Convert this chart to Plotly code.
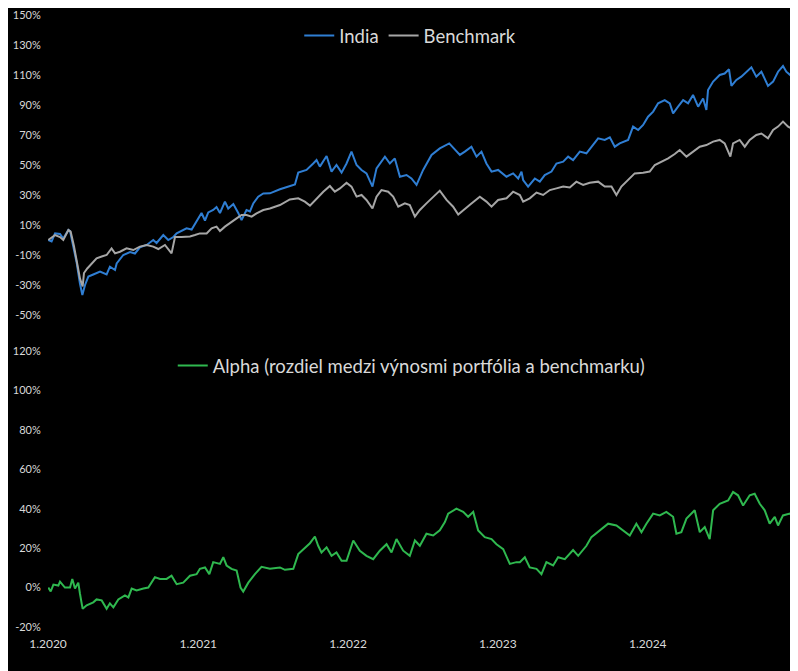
import pandas as pd
import plotly.graph_objects as go

# ---- data (time in decimal years, values in %) ----
india_t = [2020.002, 2020.024, 2020.047, 2020.080, 2020.102, 2020.136, 2020.147, 2020.169, 2020.191, 2020.213,
           2020.229, 2020.247, 2020.269, 2020.302, 2020.347, 2020.391, 2020.413, 2020.447, 2020.458, 2020.502,
           2020.547, 2020.580, 2020.613, 2020.658, 2020.702, 2020.724, 2020.769, 2020.802, 2020.836, 2020.858,
           2020.891, 2020.924, 2020.958, 2020.991, 2021.024, 2021.047, 2021.069, 2021.102, 2021.124, 2021.147,
           2021.180, 2021.202, 2021.236, 2021.269, 2021.291, 2021.324, 2021.347, 2021.369, 2021.402, 2021.436,
           2021.480, 2021.547, 2021.613, 2021.647, 2021.669, 2021.724, 2021.769, 2021.791, 2021.813, 2021.858,
           2021.891, 2021.924, 2021.958, 2021.991, 2022.024, 2022.058, 2022.091, 2022.124, 2022.164, 2022.191,
           2022.247, 2022.280, 2022.313, 2022.347, 2022.391, 2022.424, 2022.458, 2022.502, 2022.558, 2022.613,
           2022.676, 2022.713, 2022.747, 2022.780, 2022.824, 2022.858, 2022.891, 2022.924, 2022.958, 2023.002,
           2023.058, 2023.102, 2023.136, 2023.158, 2023.169, 2023.202, 2023.247, 2023.280, 2023.313, 2023.358,
           2023.391, 2023.436, 2023.469, 2023.502, 2023.547, 2023.591, 2023.624, 2023.669, 2023.713, 2023.747,
           2023.780, 2023.813, 2023.869, 2023.902, 2023.936, 2023.969, 2024.002, 2024.036, 2024.069, 2024.113,
           2024.147, 2024.169, 2024.202, 2024.236, 2024.269, 2024.302, 2024.336, 2024.369, 2024.391, 2024.402,
           2024.436, 2024.480, 2024.513, 2024.542, 2024.558, 2024.591, 2024.624, 2024.658, 2024.691, 2024.724,
           2024.758, 2024.802, 2024.836, 2024.869, 2024.902, 2024.924, 2024.958]
india_v = [0, -1, 4.4, 4, 1, 6.7, 6, -4.4, -15, -29,
           -36.7, -30, -24.4, -23, -21, -23, -17.8, -20, -15.6, -10,
           -8, -9, -4.9, -3.3, 0, -2, 3.3, 0, 2, 4.4,
           6, 7.8, 7, 12.2, 18, 13, 18.4, 20, 22, 18,
           25.6, 21, 24, 18, 13.3, 20, 19, 24.4, 28.9, 31,
           31.1, 33.8, 36, 37, 44.9, 46.7, 51, 53.3, 48.9, 56,
           45.6, 50, 44.9, 51, 58.9, 50, 46.7, 44.4, 35.6, 47.8,
           55.6, 51, 54.4, 42.2, 43.3, 41, 36.7, 46.7, 56.7, 61.1,
           64.4, 60, 56.7, 58.9, 62.2, 55.6, 58.9, 51, 45.6, 46.7,
           42.2, 44.4, 41, 45.6, 40, 35.6, 41, 38.9, 43.3, 45.6,
           51, 52.2, 55.6, 53.3, 58.9, 57.8, 62.2, 67.8, 66.7, 68.4,
           62.2, 64.4, 66.7, 75.6, 73.3, 76.7, 82.2, 85.6, 91.1, 93.3,
           91.1, 84.4, 88.9, 93.3, 91.1, 96.7, 88.9, 94.4, 86.7, 100,
           105.6, 110, 111, 113.8, 102.7, 106.7, 108.9, 112.2, 115.1, 108.9,
           112.2, 102.7, 105.6, 112.2, 116, 112.2, 109.3]

bench_t = [2020.002, 2020.047, 2020.080, 2020.102, 2020.136, 2020.151, 2020.173, 2020.196, 2020.213, 2020.231,
           2020.240, 2020.262, 2020.291, 2020.324, 2020.358, 2020.391, 2020.424, 2020.447, 2020.480, 2020.524,
           2020.569, 2020.613, 2020.658, 2020.702, 2020.736, 2020.780, 2020.824, 2020.847, 2020.891, 2020.947,
           2020.980, 2021.013, 2021.058, 2021.091, 2021.124, 2021.147, 2021.180, 2021.213, 2021.258, 2021.291,
           2021.324, 2021.358, 2021.391, 2021.436, 2021.480, 2021.547, 2021.613, 2021.669, 2021.713, 2021.747,
           2021.791, 2021.836, 2021.880, 2021.913, 2021.947, 2021.991, 2022.024, 2022.058, 2022.091, 2022.124,
           2022.164, 2022.191, 2022.224, 2022.269, 2022.302, 2022.336, 2022.380, 2022.413, 2022.447, 2022.480,
           2022.524, 2022.569, 2022.613, 2022.658, 2022.702, 2022.736, 2022.780, 2022.824, 2022.880, 2022.924,
           2022.958, 2023.002, 2023.058, 2023.102, 2023.147, 2023.169, 2023.213, 2023.258, 2023.302, 2023.347,
           2023.391, 2023.436, 2023.480, 2023.524, 2023.569, 2023.613, 2023.669, 2023.713, 2023.758, 2023.791,
           2023.824, 2023.869, 2023.913, 2023.969, 2024.013, 2024.047, 2024.091, 2024.136, 2024.180, 2024.213,
           2024.258, 2024.302, 2024.347, 2024.391, 2024.436, 2024.480, 2024.513, 2024.551, 2024.569, 2024.613,
           2024.647, 2024.680, 2024.724, 2024.758, 2024.802, 2024.836, 2024.869, 2024.902, 2024.936, 2024.958]
bench_v = [0, 3.3, 2, 0, 6.7, 5.6, -4, -18, -25.6, -31,
           -22, -19, -15.6, -12.2, -11, -10, -5.6, -8.9, -7.8, -5.6,
           -6.7, -4.4, -3.3, -4.4, -6, -3.3, -8.9, 2, 2, 2.4,
           3.3, 4.4, 4.4, 7.8, 8.9, 6, 8.9, 11, 14.4, 16.7,
           16.7, 15.6, 17.8, 20, 21, 23.3, 27, 27.8, 25.6, 22.9,
           27.8, 32.2, 36, 32.2, 34.4, 38.2, 35.6, 28.9, 30, 26.7,
           21, 28.9, 33.3, 32.2, 28.9, 22.2, 24.4, 23.3, 15.6, 20,
           24.4, 28.9, 32.9, 26.7, 22.2, 17, 21, 24.4, 28.9, 25.6,
           22.2, 26.7, 27.8, 32.2, 30, 25.6, 27.8, 31.6, 30, 33.3,
           34.4, 35.6, 35, 38.9, 36.7, 38.2, 38.9, 35.6, 35.6, 30,
           35.6, 40, 44.4, 44.9, 45.6, 50, 52.2, 54.4, 57.3, 60,
           55.6, 58.9, 62.2, 63.3, 65.6, 66.7, 64.4, 55.6, 64.4, 66.7,
           62.2, 66.7, 70, 71, 67.8, 73.3, 75.6, 78.9, 75.6, 74.4]

alpha_t = [2020.002, 2020.018, 2020.036, 2020.069, 2020.080, 2020.113, 2020.147, 2020.162, 2020.180, 2020.202,
           2020.213, 2020.231, 2020.258, 2020.302, 2020.324, 2020.358, 2020.391, 2020.413, 2020.436, 2020.469,
           2020.513, 2020.536, 2020.558, 2020.591, 2020.636, 2020.669, 2020.713, 2020.747, 2020.791, 2020.824,
           2020.858, 2020.902, 2020.947, 2020.991, 2021.013, 2021.047, 2021.076, 2021.102, 2021.147, 2021.169,
           2021.191, 2021.224, 2021.258, 2021.284, 2021.302, 2021.336, 2021.380, 2021.424, 2021.480, 2021.547,
           2021.580, 2021.636, 2021.669, 2021.713, 2021.747, 2021.780, 2021.802, 2021.824, 2021.858, 2021.891,
           2021.924, 2021.958, 2021.991, 2022.036, 2022.080, 2022.124, 2022.169, 2022.213, 2022.258, 2022.291,
           2022.324, 2022.369, 2022.413, 2022.447, 2022.480, 2022.524, 2022.569, 2022.613, 2022.647, 2022.669,
           2022.724, 2022.769, 2022.802, 2022.836, 2022.869, 2022.913, 2022.958, 2022.991, 2023.036, 2023.080,
           2023.124, 2023.147, 2023.169, 2023.180, 2023.213, 2023.258, 2023.291, 2023.324, 2023.369, 2023.402,
           2023.447, 2023.502, 2023.536, 2023.591, 2023.624, 2023.680, 2023.736, 2023.791, 2023.836, 2023.880,
           2023.924, 2023.958, 2023.991, 2024.036, 2024.080, 2024.124, 2024.169, 2024.191, 2024.224, 2024.258,
           2024.313, 2024.347, 2024.380, 2024.413, 2024.436, 2024.480, 2024.536, 2024.569, 2024.602, 2024.636,
           2024.680, 2024.713, 2024.747, 2024.780, 2024.813, 2024.847, 2024.869, 2024.902, 2024.947, 2024.980]
alpha_v = [0, -2, 1.5, 1, 3, 0, 0, 4.4, -0.5, 2.5,
           -3, -10.8, -9, -7.5, -6, -6.5, -10.8, -8, -10, -6,
           -4, -5, -0.5, -1.5, -0.5, 0, 5.3, 4.4, 4.4, 6,
           1.7, 2.5, 6, 6.8, 9.5, 10.2, 6.8, 12.9, 12, 15.4,
           11.2, 9.5, 8.6, 0, -2, 2.5, 6.8, 10.5, 9.5, 10.2,
           9, 9.5, 17, 20.4, 22.5, 25.9, 21.2, 17.8, 20.4, 16.1,
           17.8, 13.6, 13.6, 23.9, 18.7, 16.1, 14.4, 18.7, 22, 17.8,
           24.6, 18.7, 16.1, 23.9, 21.2, 27.3, 26.4, 29, 33.2, 37.5,
           40, 38.4, 35.9, 38.4, 29, 25.6, 24.6, 22, 19.5, 12,
           12.9, 12.9, 14.4, 15.4, 10.2, 9.5, 6.8, 12.9, 11.2, 15.4,
           14.4, 19, 16.1, 21.2, 25.6, 29, 32.4, 31.5, 29, 26.4,
           32.4, 28.1, 32.4, 37.5, 36.6, 38.4, 35.9, 27.3, 28.1, 35,
           39.2, 28.1, 30.7, 24.6, 39.2, 42.5, 44.2, 48.5, 46.8, 41.6,
           46.8, 47.6, 42.5, 39.2, 32.4, 35.9, 31.5, 36.6, 37.5, 35]

top_ticks = [-50, -30, -10, 10, 30, 50, 70, 90, 110, 130, 150]
bottom_ticks = [-20, 0, 20, 40, 60, 80, 100, 120]
x_ticks = ["2020-01-01", "2021-01-01", "2022-01-01", "2023-01-01", "2024-01-01"]
x_ticktext = ["1.2020", "1.2021", "1.2022", "1.2023", "1.2024"]

BLUE = "#2f7ed3"
GRAY = "#a6a6a6"
GREEN = "#2fb84f"
TXT = "#d9d9d9"
FONT = "Lato"


def to_dates(ts):
    base = pd.Timestamp("2020-01-01")
    return [base + pd.to_timedelta((t - 2020) * 365.25, unit="D") for t in ts]


fig = go.Figure()
fig.add_trace(go.Scatter(x=to_dates(india_t), y=india_v, mode="lines", name="India",
                         line=dict(color=BLUE, width=2), xaxis="x", yaxis="y", legend="legend"))
fig.add_trace(go.Scatter(x=to_dates(bench_t), y=bench_v, mode="lines", name="Benchmark",
                         line=dict(color=GRAY, width=2), xaxis="x", yaxis="y", legend="legend"))
fig.add_trace(go.Scatter(x=to_dates(alpha_t), y=alpha_v, mode="lines",
                         name="Alpha (rozdiel medzi výnosmi portfólia a benchmarku)",
                         line=dict(color=GREEN, width=2), xaxis="x2", yaxis="y2", legend="legend2"))

xcommon = dict(type="date", range=["2020-01-01", "2025-01-01"], showgrid=False, zeroline=False,
               showline=False, tickvals=x_ticks, ticktext=x_ticktext,
               tickfont=dict(color=TXT, size=12, family=FONT), ticks="outside", ticklen=6,
               tickcolor="rgba(0,0,0,0)", ticklabeloverflow="allow")

ycommon = dict(showgrid=False, zeroline=False, tickfont=dict(color=TXT, size=11, family=FONT),
               ticks="outside", ticklen=4, tickcolor="rgba(0,0,0,0)", ticklabeloverflow="allow")

fig.update_layout(
    width=790, height=663,
    paper_bgcolor="#000000", plot_bgcolor="#000000",
    margin=dict(l=40, r=0, t=7, b=44),
    font=dict(family=FONT, color=TXT),
    xaxis=dict(xcommon, domain=[0, 1], anchor="y", showticklabels=False),
    xaxis2=dict(xcommon, domain=[0, 1], anchor="y2", matches="x"),
    yaxis=dict(ycommon, domain=[0.5098, 1.0], range=[-50, 150], tickvals=top_ticks,
               ticktext=[f"{v}%" for v in top_ticks]),
    yaxis2=dict(ycommon, domain=[0.0, 0.451], range=[-20, 120], tickvals=bottom_ticks,
                ticktext=[f"{v}%" for v in bottom_ticks]),
    legend=dict(orientation="h", x=0.483, xanchor="center", y=0.9657, yanchor="middle",
                bgcolor="rgba(0,0,0,0)", font=dict(size=18.5, color=TXT, family=FONT),
                itemwidth=30, tracegroupgap=0),
    legend2=dict(orientation="h", x=0.485, xanchor="center", y=0.4265, yanchor="middle",
                 bgcolor="rgba(0,0,0,0)", font=dict(size=18.5, color=TXT, family=FONT),
                 itemwidth=30),
    showlegend=True,
)

fig.write_html("out.html")
